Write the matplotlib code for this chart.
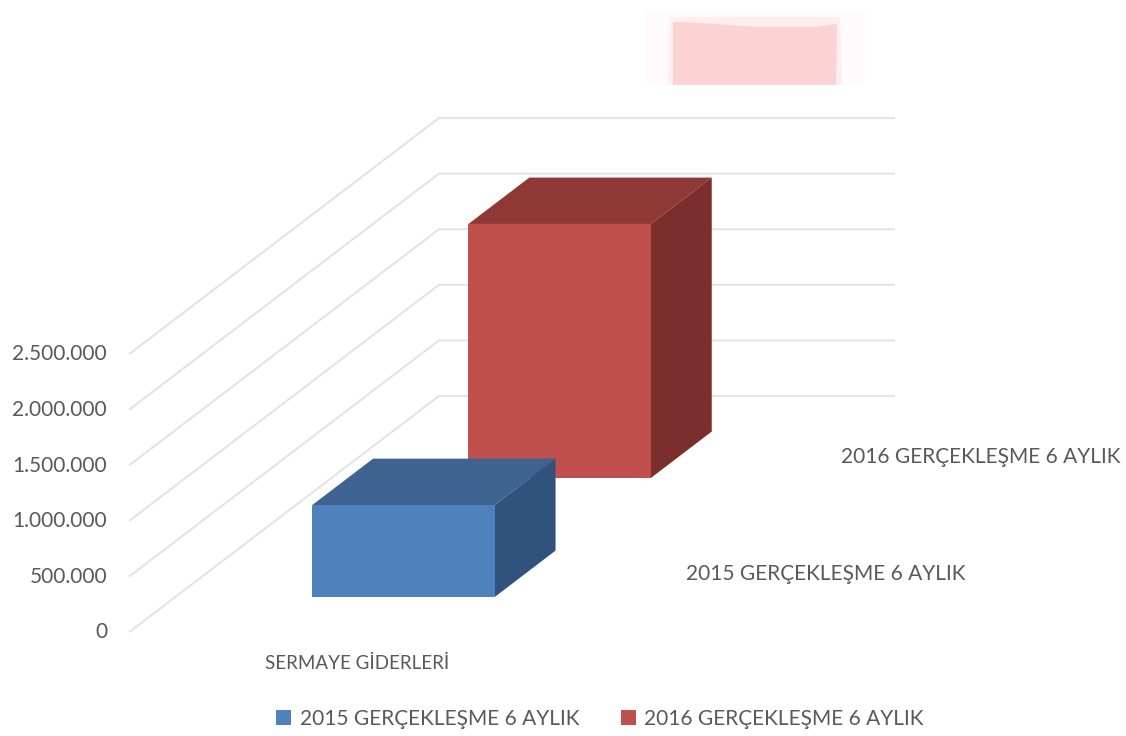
import matplotlib
matplotlib.use('Agg')
import matplotlib.pyplot as plt
from matplotlib.patches import Polygon, Patch

plt.rcParams['font.family'] = ['Lato', 'DejaVu Sans']

categories = ['SERMAYE GİDERLERİ']
series = ['2015 GERÇEKLEŞME 6 AYLIK', '2016 GERÇEKLEŞME 6 AYLIK']
values = [827000, 2284000]
ticks = [0, 500000, 1000000, 1500000, 2000000, 2500000]
tick_labels = ['0', '500.000', '1.000.000', '1.500.000', '2.000.000', '2.500.000']

front = ['#4f81bd', '#c0504d']
top = ['#3e6390', '#8f3937']
side = ['#31527c', '#7b2f2d']
txt = '#595959'
grid = '#e4e4e4'

# oblique projection of the 3d box, in figure pixels
x0, y0 = 130, 631.5
floor_w = 455
px_per_val = 55.6 / 500000
dx, dy = 309, -235.5

def proj(u, v, d):
    # u across the category, v value, d depth (0 front, 1 back)
    return (x0 + u * floor_w + d * dx, y0 - v * px_per_val + d * dy)

fig = plt.figure(figsize=(11.26, 7.36), dpi=100)
ax = fig.add_axes([0, 0, 1, 1])
ax.set_xlim(0, 1126)
ax.set_ylim(736, 0)
ax.axis('off')

for t, lab in zip(ticks, tick_labels):
    a = proj(0, t, 0)
    b = proj(0, t, 1)
    c = proj(1, t, 1)
    ax.plot([a[0], b[0], c[0]], [a[1], b[1], c[1]], color=grid, lw=1.5, zorder=1)
    ax.text(107, a[1] + 1, lab, ha='right', va='center', fontsize=15, color=txt)

# washed out patch on top of the picture
ax.add_patch(Polygon([(645, 10), (865, 10), (865, 85), (645, 85)], fc='#fffbfc', ec='none', zorder=1))
ax.add_patch(Polygon([(670, 17), (840, 17), (842, 85), (668, 85)], fc='#ffeef0', ec='none', zorder=1))
ax.add_patch(Polygon([(673, 22), (700, 23), (760, 27), (815, 27), (837, 24), (836, 85), (673, 85)],
                     fc='#fdd2d3', ec='none', zorder=2))

# bars, back one first
u0, u1 = 0.301, 0.702
depth_start = [0.1465, 0.652]
depth = 0.197
for i in [1, 0]:
    v = values[i]
    d0 = depth_start[i]
    d1 = d0 + depth
    z = 3 + 2 * (1 - i)
    ax.add_patch(Polygon([proj(u0, v, d0), proj(u1, v, d0), proj(u1, v, d1), proj(u0, v, d1)],
                         fc=top[i], ec='none', zorder=z))
    ax.add_patch(Polygon([proj(u1, 0, d0), proj(u1, v, d0), proj(u1, v, d1), proj(u1, 0, d1)],
                         fc=side[i], ec='none', zorder=z))
    ax.add_patch(Polygon([proj(u0, 0, d0), proj(u1, 0, d0), proj(u1, v, d0), proj(u0, v, d0)],
                         fc=front[i], ec='none', zorder=z))

ax.text(357, 663, categories[0], ha='center', va='center', fontsize=13.5, color=txt)
ax.text(826, 574, series[0], ha='center', va='center', fontsize=15, color=txt)
ax.text(981, 457, series[1], ha='center', va='center', fontsize=15, color=txt)

handles = [Patch(fc=front[0], ec='none'), Patch(fc=front[1], ec='none')]
ax.legend(handles, series, ncol=2, loc='center', bbox_to_anchor=(600 / 1126, 1 - 719 / 736),
          bbox_transform=fig.transFigure, frameon=False, fontsize=15, labelcolor=txt,
          handlelength=0.72, handleheight=0.72, handletextpad=0.4, columnspacing=2.0)

fig.savefig('out.png', dpi=100)
